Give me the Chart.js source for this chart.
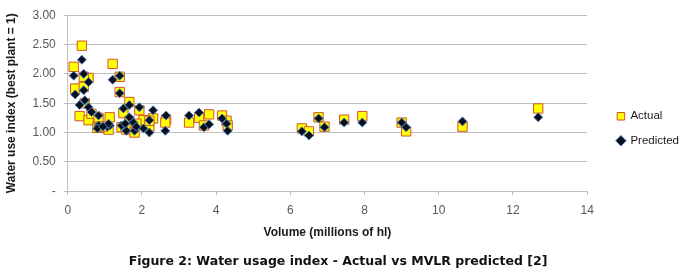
<!DOCTYPE html>
<html>
<head>
<meta charset="utf-8">
<script src="https://cdn.jsdelivr.net/npm/chart.js@4"></script>
<style>
  html, body { margin: 0; padding: 0; background: #fff; }
  .chart-container { position: relative; width: 680px; height: 278px; }
</style>
</head>
<body>
<div class="chart-container"><canvas id="waterChart"></canvas></div>
<script>
// volume per plant (millions of hl) with actual and predicted index
const volume = [0.16, 0.38, 0.20, 0.43, 0.56, 0.32, 0.56, 0.46, 0.43, 0.64,
                0.83, 0.83, 0.80, 1.07, 1.13, 1.21, 1.40, 1.40, 1.66, 1.50,
                1.93, 2.30, 2.65, 2.63, 1.45, 1.58, 1.66, 1.77, 1.80, 2.04,
                2.20, 2.20, 3.27, 3.54, 3.67, 3.81, 4.16, 4.28, 4.31, 6.31,
                6.50, 6.76, 6.92, 7.45, 7.94, 9.00, 9.12, 10.64, 12.68, 1.10,
                0.95, 1.85, 1.55];
const actual = [2.12, 2.48, 1.75, 1.78, 1.93, 1.28, 1.21, 1.50, 1.95, 1.32,
                1.25, 1.10, 1.08, 1.07, 1.26, 2.17, 1.95, 1.69, 1.52, 1.33,
                1.38, 1.24, 1.22, 1.17, 1.09, 1.05, 1.20, 1.10, 1.00, 1.21,
                1.10, 1.20, 1.17, 1.25, 1.12, 1.31, 1.29, 1.20, 1.12, 1.07,
                1.02, 1.26, 1.10, 1.22, 1.28, 1.17, 1.02, 1.10, 1.41, 1.05,
                1.10, 1.15, 1.10];
const predicted = [1.97, 2.24, 1.65, 1.72, 1.86, 1.47, 1.43, 1.55, 2.00, 1.35,
                   1.29, 1.12, 1.07, 1.10, 1.12, 1.90, 1.97, 1.67, 1.47, 1.41,
                   1.43, 1.38, 1.29, 1.03, 1.12, 1.03, 1.26, 1.17, 1.03, 1.07,
                   1.00, 1.21, 1.29, 1.34, 1.09, 1.14, 1.24, 1.15, 1.03, 1.02,
                   0.95, 1.24, 1.09, 1.17, 1.17, 1.17, 1.09, 1.19, 1.26, 1.15,
                   1.10, 1.10, 1.15];
const xTicks = [0, 2, 4, 6, 8, 10, 12, 14];
const yTicks = [0, 0.5, 1, 1.5, 2, 2.5, 3];

// nudge the legend away from the plot like the original
const legendShift = {
    id: 'legendShift',
    afterLayout(chart) {
        const lg = chart.legend;
        const dx = chart.chartArea.right + 17 - lg.left;
        lg.left += dx;
        lg.right += dx;
        lg.top -= 11;
        lg.bottom -= 11;
    }
};

document.addEventListener('DOMContentLoaded', () => {
    const ctx = document.getElementById('waterChart').getContext('2d');
    const toPoints = (ys) => volume.map((x, i) => ({ x: x, y: ys[i] }));

    new Chart(ctx, {
        type: 'scatter',
        data: {
            datasets: [{
                // first dataset is drawn on top
                label: 'Predicted',
                data: toPoints(predicted),
                pointStyle: 'rectRot',
                pointRadius: 4.5,
                backgroundColor: '#0a0f1e',
                borderColor: '#4a7fc0',
                borderWidth: 1
            }, {
                label: 'Actual',
                data: toPoints(actual),
                pointStyle: 'rect',
                pointRadius: 6.6,
                backgroundColor: '#ffff00',
                borderColor: '#d2552a',
                borderWidth: 1
            }]
        },
        options: {
            responsive: true,
            maintainAspectRatio: false,
            animation: false,
            layout: { padding: { top: 10, left: 4, right: 8, bottom: 9 } },
            scales: {
                x: {
                    type: 'linear',
                    min: 0,
                    max: 14,
                    afterBuildTicks: (axis) => { axis.ticks = xTicks.map(v => ({ value: v })); },
                    ticks: { color: '#595959', font: { family: 'Liberation Sans', size: 12 }, padding: 8 },
                    grid: { display: true, drawOnChartArea: false, tickLength: 4, color: '#bfbfbf' },
                    border: { color: '#bfbfbf' },
                    title: {
                        display: true,
                        text: 'Volume (millions of hl)',
                        color: '#1a1a1a',
                        font: { family: 'Liberation Sans', size: 12, weight: 'bold' },
                        padding: { top: 0, bottom: 0 }
                    }
                },
                y: {
                    min: 0,
                    max: 3,
                    afterBuildTicks: (axis) => { axis.ticks = yTicks.map(v => ({ value: v })); },
                    ticks: {
                        color: '#595959',
                        font: { family: 'Liberation Sans', size: 12 },
                        padding: 8,
                        callback: (value) => value === 0 ? '-' : value.toFixed(2)
                    },
                    grid: { color: '#bfbfbf', tickLength: 4 },
                    border: { color: '#bfbfbf' },
                    title: {
                        display: true,
                        text: 'Water use index (best plant = 1)',
                        color: '#1a1a1a',
                        font: { family: 'Liberation Sans', size: 12, weight: 'bold' },
                        padding: { top: 0, bottom: 6 }
                    }
                }
            },
            plugins: {
                legend: {
                    position: 'right',
                    labels: {
                        usePointStyle: true,
                        color: '#1a1a1a',
                        font: { family: 'Liberation Sans', size: 11.5 },
                        padding: 13,
                        boxWidth: 7.5,
                        boxHeight: 7.5,
                        sort: (a, b) => b.datasetIndex - a.datasetIndex
                    }
                },
                title: {
                    display: true,
                    position: 'bottom',
                    text: 'Figure 2: Water usage index - Actual vs MVLR predicted [2]',
                    color: '#111',
                    font: { family: 'DejaVu Sans', size: 12.5, weight: 'bold' },
                    padding: { top: 14, bottom: 0 }
                },
                tooltip: { enabled: false }
            }
        },
        plugins: [legendShift]
    });
});
</script>
</body>
</html>
